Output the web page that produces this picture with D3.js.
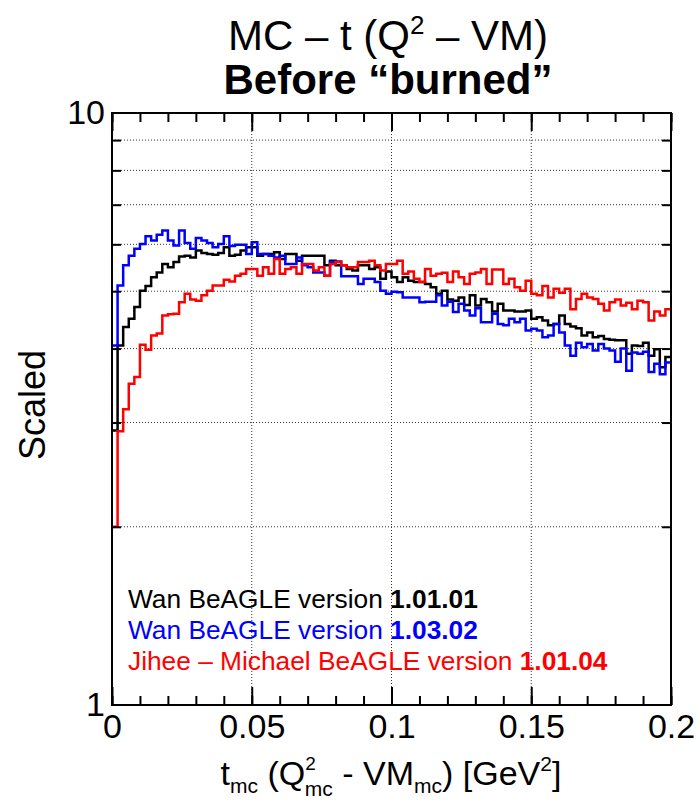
<!DOCTYPE html>
<html>
<head>
<meta charset="utf-8">
<script src="https://cdn.jsdelivr.net/npm/d3@7/dist/d3.min.js"></script>
<style>
    body { margin: 0; background: #fff; }
    text { font-family: "Liberation Sans", Arial, Helvetica, sans-serif; }
</style>
</head>
<body>
<svg id="chart" width="700" height="809"></svg>
<script>
// 100 bins of 0.002 GeV^2
var bin_w = 0.002;

var black_vals = [2.91, 4.05, 4.35, 4.49, 4.70, 5.01, 5.10, 5.28, 5.38, 5.56,
    5.49, 5.60, 5.72, 5.74, 5.70, 5.86, 5.80, 5.78, 5.76, 5.80,
    5.93, 5.74, 5.76, 5.86, 5.93, 5.93, 5.74, 5.78, 5.78, 5.82,
    5.67, 5.78, 5.78, 5.63, 5.74, 5.74, 5.74, 5.74, 5.53, 5.63,
    5.53, 5.53, 5.45, 5.42, 5.53, 5.53, 5.45, 5.49, 5.25, 5.40,
    5.28, 5.18, 5.28, 5.21, 5.18, 5.18, 5.14, 5.08, 4.95, 5.01,
    4.84, 4.82, 4.88, 4.74, 4.92, 4.73, 4.85, 4.79, 4.62, 4.76,
    4.64, 4.64, 4.62, 4.62, 4.64, 4.49, 4.52, 4.46, 4.38, 4.40,
    4.55, 4.40, 4.36, 4.33, 4.21, 4.26, 4.18, 4.20, 4.15, 4.14,
    4.13, 4.13, 3.92, 4.05, 4.04, 4.09, 3.89, 3.99, 3.72, 3.87];

var blue_vals = [4.05, 5.11, 5.53, 5.74, 5.90, 6.01, 6.19, 6.09, 6.23, 6.33,
    6.09, 5.97, 6.33, 6.03, 5.90, 6.15, 6.09, 6.03, 5.93, 6.01,
    6.19, 5.96, 5.99, 5.99, 5.78, 6.05, 5.78, 5.78, 5.74, 5.70,
    5.74, 5.56, 5.56, 5.70, 5.53, 5.49, 5.38, 5.38, 5.31, 5.60,
    5.61, 5.30, 5.30, 5.30, 5.14, 5.25, 5.25, 5.18, 5.01, 4.95,
    4.99, 4.98, 4.88, 4.88, 4.88, 4.79, 4.80, 4.80, 4.92, 4.73,
    4.80, 4.61, 4.76, 4.64, 4.55, 4.68, 4.43, 4.43, 4.58, 4.40,
    4.38, 4.49, 4.43, 4.49, 4.29, 4.32, 4.29, 4.18, 4.21, 4.40,
    4.26, 4.05, 3.89, 4.09, 4.02, 4.07, 3.97, 4.07, 4.00, 3.97,
    3.80, 4.00, 3.67, 3.94, 3.92, 3.95, 3.65, 3.77, 3.62, 3.79];

var red_vals = [2.00, 2.90, 3.16, 3.49, 3.58, 4.06, 3.98, 4.21, 4.24, 4.55,
    4.57, 4.58, 4.79, 4.95, 4.84, 4.82, 4.92, 5.01, 5.11, 5.11,
    5.23, 5.19, 5.31, 5.35, 5.45, 5.45, 5.31, 5.49, 5.35, 5.67,
    5.35, 5.45, 5.49, 5.35, 5.56, 5.56, 5.42, 5.49, 5.31, 5.56,
    5.60, 5.53, 5.49, 5.49, 5.60, 5.60, 5.63, 5.53, 5.42, 5.56,
    5.56, 5.63, 5.35, 5.40, 5.25, 5.18, 5.45, 5.31, 5.35, 5.37,
    5.18, 5.40, 5.28, 5.14, 5.35, 5.38, 5.45, 5.14, 5.44, 5.44,
    5.14, 5.25, 5.08, 5.01, 5.21, 4.95, 4.92, 5.10, 4.88, 5.05,
    4.97, 5.05, 4.66, 4.85, 4.95, 4.88, 4.85, 4.76, 4.64, 4.79,
    4.84, 4.73, 4.78, 4.66, 4.82, 4.79, 4.46, 4.62, 4.55, 4.66];

var x_ticks = [0, 0.05, 0.1, 0.15, 0.2],
    x_labels = ["0", "0.05", "0.1", "0.15", "0.2"],
    y_ticks = [1, 10],
    y_grid = [2, 3, 4, 5, 6, 7, 8, 9];

var legend_names = ["Wan BeAGLE version ", "Wan BeAGLE version ", "Jihee \u2013 Michael BeAGLE version "],
    legend_versions = ["1.01.01", "1.03.02", "1.01.04"],
    series_colors = ["#000000", "#0000ff", "#ff0000"];

var frame = {l: 112, r: 671, t: 113, b: 705};

var svg = d3.select("#chart");

var x = d3.scaleLinear().domain([0, 0.2]).range([frame.l, frame.r]),
    y = d3.scaleLog().domain([1, 10]).range([frame.b, frame.t]);

// dotted grid
svg.append("g").selectAll("line").data(y_grid).enter().append("line")
    .attr("x1", frame.l).attr("x2", frame.r)
    .attr("y1", function(d){return y(d)}).attr("y2", function(d){return y(d)})
    .attr("stroke", "#333").attr("stroke-width", 1).attr("stroke-dasharray", "1,2");
svg.append("g").selectAll("line").data(x_ticks.slice(1, -1)).enter().append("line")
    .attr("y1", frame.t).attr("y2", frame.b)
    .attr("x1", function(d){return x(d)}).attr("x2", function(d){return x(d)})
    .attr("stroke", "#333").attr("stroke-width", 1).attr("stroke-dasharray", "1,2");

// histograms, drawn as steps
var step = d3.line()
    .x(function(d){return x(d[0])})
    .y(function(d){return y(d[1])})
    .curve(d3.curveStepAfter);

[black_vals, blue_vals, red_vals].forEach(function(vals, k){
    var pts = vals.map(function(v, i){return [i * bin_w, v]});
    pts.push([vals.length * bin_w, vals[vals.length - 1]]);
    svg.append("path").datum(pts)
        .attr("d", step)
        .attr("fill", "none")
        .attr("stroke", series_colors[k])
        .attr("stroke-width", 2.5);
});

// tick marks on all four sides
function clean(g){ g.select(".domain").remove(); g.selectAll("line").attr("stroke", "#000").attr("stroke-width", 2); }

svg.append("g").attr("transform", "translate(0," + frame.b + ")")
    .call(d3.axisTop(x).tickValues(x.ticks(20)).tickSize(9).tickFormat("")).call(clean);
svg.append("g").attr("transform", "translate(0," + frame.b + ")")
    .call(d3.axisTop(x).tickValues(x_ticks).tickSize(18).tickFormat("")).call(clean);
svg.append("g").attr("transform", "translate(0," + frame.t + ")")
    .call(d3.axisBottom(x).tickValues(x.ticks(20)).tickSize(9).tickFormat("")).call(clean);
svg.append("g").attr("transform", "translate(0," + frame.t + ")")
    .call(d3.axisBottom(x).tickValues(x_ticks).tickSize(18).tickFormat("")).call(clean);
svg.append("g").attr("transform", "translate(" + frame.l + ",0)")
    .call(d3.axisRight(y).tickValues(y_grid).tickSize(9).tickFormat("")).call(clean);
svg.append("g").attr("transform", "translate(" + frame.r + ",0)")
    .call(d3.axisLeft(y).tickValues(y_grid).tickSize(9).tickFormat("")).call(clean);

// tick labels
var xl = svg.append("g").attr("transform", "translate(0," + frame.b + ")")
    .call(d3.axisBottom(x).tickValues(x_ticks).tickSize(0).tickPadding(9)
        .tickFormat(function(d, i){return x_labels[i]}));
xl.select(".domain").remove();
xl.selectAll("text").attr("font-size", 34).attr("font-family", null).attr("fill", "#000");

var yl = svg.append("g").attr("transform", "translate(" + frame.l + ",0)")
    .call(d3.axisLeft(y).tickValues(y_ticks).tickSize(0).tickPadding(7)
        .tickFormat(d3.format("d")));
yl.select(".domain").remove();
yl.selectAll("text").attr("font-size", 34).attr("font-family", null).attr("fill", "#000");

// frame
svg.append("rect")
    .attr("x", frame.l).attr("y", frame.t)
    .attr("width", frame.r - frame.l).attr("height", frame.b - frame.t)
    .attr("fill", "none").attr("stroke", "#000").attr("stroke-width", 2);

// titles
var t1 = svg.append("text").attr("x", 388).attr("y", 50).attr("text-anchor", "middle").attr("font-size", 42);
t1.append("tspan").text("MC \u2013 t (Q");
t1.append("tspan").attr("font-size", 26).attr("dy", -16).text("2");
t1.append("tspan").attr("dy", 16).text(" \u2013 VM)");

svg.append("text").attr("x", 388).attr("y", 94).attr("text-anchor", "middle")
    .attr("font-size", 42).attr("font-weight", "bold").text("Before \u201cburned\u201d");

// axis titles
svg.append("text").attr("transform", "translate(45,405) rotate(-90)")
    .attr("text-anchor", "middle").attr("font-size", 36).text("Scaled");

// x title, Q^2 with stacked subscript
var xt = svg.append("text").attr("x", 391).attr("y", 785).attr("text-anchor", "middle").attr("font-size", 34);
xt.append("tspan").text("t");
xt.append("tspan").attr("font-size", 21).attr("dy", 8).text("mc");
xt.append("tspan").attr("dy", -8).text(" (Q");
xt.append("tspan").attr("font-size", 19).attr("dy", -15).text("2");
xt.append("tspan").attr("font-size", 21).attr("dx", -11).attr("dy", 26).text("mc");
xt.append("tspan").attr("dy", -11).text(" - VM");
xt.append("tspan").attr("font-size", 21).attr("dy", 8).text("mc");
xt.append("tspan").attr("dy", -8).text(") [GeV");
xt.append("tspan").attr("font-size", 21).attr("dy", -14).text("2");
xt.append("tspan").attr("dy", 14).text("]");

// legend
var leg = svg.append("g").selectAll("text").data(legend_names).enter().append("text")
    .attr("x", 128).attr("y", function(d, i){return 608 + i * 31})
    .attr("font-size", 26.3)
    .attr("fill", function(d, i){return series_colors[i]});
leg.append("tspan").text(function(d){return d});
leg.append("tspan").attr("font-weight", "bold").text(function(d, i){return legend_versions[i]});
</script>
</body>
</html>
